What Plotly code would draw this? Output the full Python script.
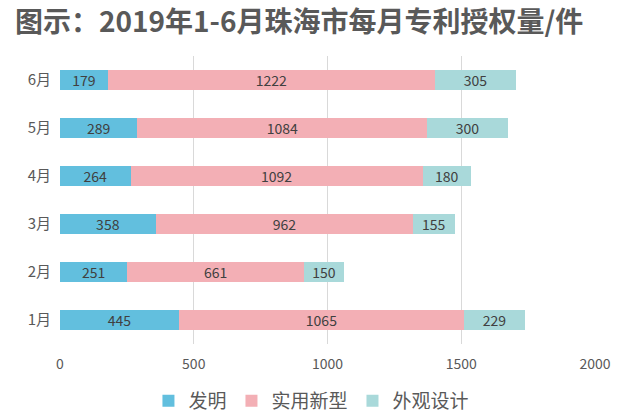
import plotly.graph_objects as go

months = ["1月", "2月", "3月", "4月", "5月", "6月"]
invention = [445, 251, 358, 264, 289, 179]
utility = [1065, 661, 962, 1092, 1084, 1222]
design = [229, 150, 155, 180, 300, 305]
series_names = ["发明", "实用新型", "外观设计"]
colors = ["#62BFDE", "#F3AFB5", "#A9D9DA"]
title_text = "<b>图示：2019年1-6月珠海市每月专利授权量/件</b>"

fig = go.Figure()
for name, vals, col in zip(series_names, [invention, utility, design], colors):
    fig.add_trace(go.Bar(
        y=months, x=vals, name=name, orientation="h",
        marker=dict(color=col, line=dict(width=0)),
        text=[str(v) for v in vals], textposition="inside",
        insidetextanchor="middle", constraintext="none",
        textfont=dict(size=14, color="#404040", family="Noto Sans CJK SC"),
    ))

fig.update_layout(
    barmode="stack",
    bargap=0.58,
    width=629, height=420,
    margin=dict(l=60, r=34, t=56, b=76, autoexpand=False),
    paper_bgcolor="white", plot_bgcolor="white",
    font=dict(family="Noto Sans CJK SC", color="#595959", size=14),
    title=dict(text=title_text, x=15/629, xanchor="left", y=1-22/420, yanchor="middle",
               font=dict(size=28, color="#595959", family="Noto Sans CJK SC")),
    xaxis=dict(range=[0, 2000], tickvals=[0, 500, 1000, 1500, 2000],
               showgrid=True, gridcolor="#D9D9D9", gridwidth=1, zeroline=False,
               showline=False, ticks="", ticklabelstandoff=10, automargin=False,
               tickfont=dict(size=14, color="#595959")),
    yaxis=dict(showgrid=False, showline=False, ticks="", ticklabelstandoff=8,
               automargin=False, tickfont=dict(size=15, color="#595959")),
    legend=dict(orientation="h", x=0.47, xanchor="center", y=-0.198, yanchor="middle",
                font=dict(size=19, color="#595959"), traceorder="normal",
                itemwidth=30),
    showlegend=True,
)
fig.write_html("out.html", post_script="document.body.style.margin='0';",
               config={"displayModeBar": False})
